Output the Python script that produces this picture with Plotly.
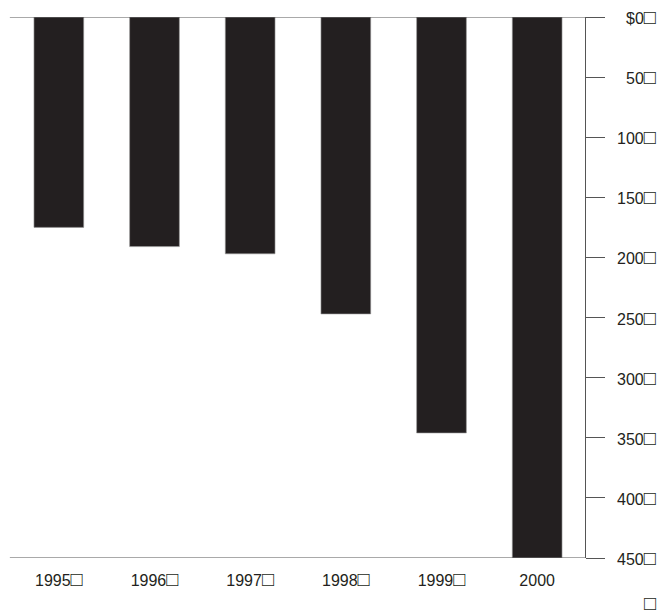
import plotly.graph_objects as go

years = ["1995", "1996", "1997", "1998", "1999", "2000"]
has_box = [True, True, True, True, True, False]
values = [175, 191, 197, 247, 346, 450]
tick_vals = [0, 50, 100, 150, 200, 250, 300, 350, 400, 450]
tick_text = ["$0", "50", "100", "150", "200", "250", "300", "350", "400", "450"]
box = "<span style='font-size:20px'>\u25A1</span>"

ink = "#231f20"
font = dict(family="Liberation Sans, Arial, DejaVu Sans", size=16, color=ink)

fig = go.Figure()
fig.add_trace(go.Bar(
    x=years, y=values,
    marker=dict(color=ink, line=dict(color="#9a9a9a", width=0.6)),
    width=0.52,
))

fig.update_layout(
    width=662, height=616,
    margin=dict(l=11, r=77, t=17, b=58, autoexpand=False),
    paper_bgcolor="white", plot_bgcolor="white",
    showlegend=False,
    font=font,
    xaxis=dict(
        tickmode="array", tickvals=years,
        ticktext=[y + (box if b else "") for y, b in zip(years, has_box)],
        ticks="outside", ticklen=8, tickcolor="rgba(0,0,0,0)",
        showline=False, showgrid=False, zeroline=False,
        tickfont=font,
    ),
    yaxis=dict(
        range=[450, 0], side="right",
        tickmode="array", tickvals=tick_vals, showticklabels=False,
        ticks="outside", ticklen=19, tickcolor="#555555", tickwidth=1,
        showline=True, linecolor="#555555", linewidth=1,
        showgrid=False, zeroline=False,
    ),
)

# top and bottom rules
for v in (0, 450):
    fig.add_shape(type="line", xref="paper", yref="y", x0=-0.002, x1=1.0, y0=v, y1=v,
                  line=dict(color="#555555", width=1.2))

# right-aligned y tick labels
for v, t in zip(tick_vals, tick_text):
    fig.add_annotation(xref="paper", yref="y", x=1.127, y=v, text=t + box,
                       showarrow=False, xanchor="right", yanchor="middle", font=font)

fig.add_annotation(xref="paper", yref="paper", x=1.127, y=-0.083, text=box,
                   showarrow=False, xanchor="right", yanchor="middle", font=font)

fig.write_html("out.html", config={"displayModeBar": False},
               post_script="document.body.style.margin='0';")
